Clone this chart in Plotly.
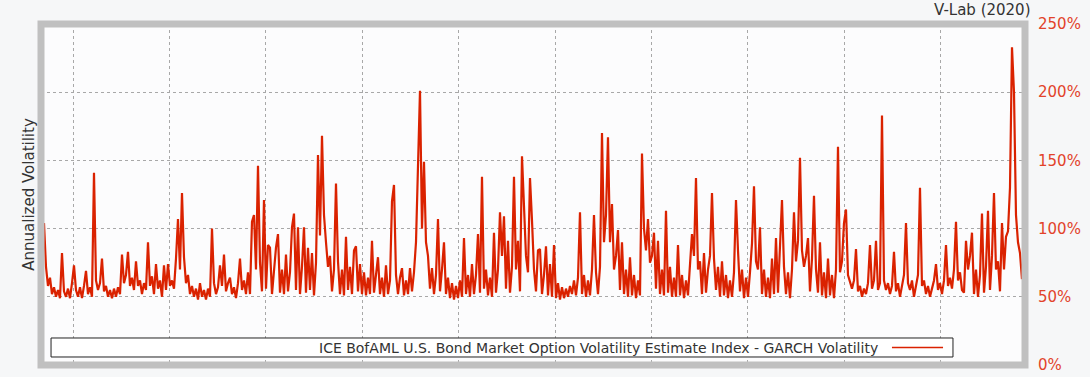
import plotly.graph_objects as go

vol = [
    104, 72, 58, 64, 52, 57, 50, 55, 49, 82, 54, 50, 56, 49, 60, 73, 55, 50, 57, 49,
    58, 69, 52, 57, 50, 141, 62, 55, 60, 78, 54, 58, 50, 55, 49, 56, 50, 57, 52, 81,
    60, 66, 83, 58, 64, 55, 76, 58, 62, 52, 60, 55, 90, 58, 65, 52, 74, 56, 62, 50,
    73, 55, 74, 58, 62, 56, 78, 107, 70, 126, 79, 60, 66, 52, 58, 50, 56, 48, 60, 50,
    55, 48, 56, 50, 100, 60, 52, 57, 73, 58, 81, 54, 60, 64, 52, 57, 49, 60, 78, 55,
    62, 52, 68, 52, 105, 110, 70, 146, 75, 54, 121, 56, 88, 86, 52, 70, 86, 96, 53, 70,
    52, 81, 54, 68, 101, 111, 55, 101, 52, 72, 101, 53, 86, 55, 82, 51, 75, 154, 95, 168,
    110, 90, 72, 80, 54, 70, 133, 76, 52, 70, 51, 94, 55, 72, 52, 84, 87, 54, 74, 52,
    68, 51, 64, 52, 91, 53, 68, 79, 52, 64, 50, 73, 52, 62, 120, 132, 66, 52, 64, 71,
    51, 62, 52, 71, 54, 68, 90, 155, 201, 100, 149, 90, 80, 56, 71, 52, 66, 107, 54, 70,
    90, 52, 64, 49, 60, 48, 58, 49, 62, 50, 93, 52, 66, 50, 74, 52, 66, 96, 53, 138,
    56, 70, 51, 64, 50, 97, 53, 70, 112, 80, 109, 56, 91, 53, 72, 138, 70, 91, 54, 153,
    112, 80, 68, 137, 106, 70, 54, 84, 85, 52, 66, 87, 51, 74, 50, 88, 49, 60, 48, 57,
    49, 56, 50, 58, 52, 62, 51, 64, 112, 52, 66, 50, 62, 51, 70, 110, 68, 52, 72, 170,
    90, 110, 167, 90, 118, 70, 80, 99, 55, 90, 52, 70, 50, 79, 51, 66, 49, 62, 51, 155,
    100, 84, 107, 75, 80, 97, 56, 91, 52, 70, 51, 113, 53, 72, 50, 64, 50, 88, 51, 66,
    49, 62, 51, 70, 96, 80, 137, 70, 76, 52, 82, 53, 70, 80, 126, 78, 55, 72, 50, 76,
    51, 66, 49, 62, 50, 68, 121, 84, 54, 70, 49, 64, 50, 68, 89, 131, 76, 70, 101, 52,
    70, 50, 64, 49, 78, 52, 93, 53, 93, 121, 72, 52, 68, 49, 70, 112, 76, 91, 152, 84,
    72, 80, 93, 54, 78, 124, 70, 53, 90, 51, 68, 49, 78, 51, 66, 49, 70, 160, 68, 76,
    104, 114, 66, 60, 56, 62, 85, 54, 58, 50, 56, 52, 60, 88, 56, 62, 91, 55, 60, 183,
    62, 55, 60, 52, 58, 83, 54, 60, 50, 58, 66, 104, 60, 55, 62, 50, 57, 66, 130, 58,
    62, 52, 58, 50, 56, 62, 74, 55, 60, 52, 62, 88, 58, 64, 56, 70, 105, 62, 68, 55,
    53, 91, 70, 80, 97, 52, 70, 50, 66, 111, 53, 72, 113, 55, 80, 126, 70, 76, 54, 104,
    70, 94, 98, 130, 233, 200, 110, 90, 82, 63,
]

start_year = 1999.398
step_years = 0.041494
years = [start_year + i * step_years for i in range(len(vol))]

y_ticks = [0, 50, 100, 150, 200, 250]
y_tick_labels = ["0%", "50%", "100%", "150%", "200%", "250%"]
series_name = "ICE BofAML U.S. Bond Market Option Volatility Estimate Index - GARCH Volatility"

LINE_RED = "#da2200"
TICK_RED = "#e2432a"
FONT = "DejaVu Sans"

fig = go.Figure()
fig.add_trace(go.Scatter(
    x=years, y=vol, mode="lines", name=series_name,
    line=dict(color=LINE_RED, width=2.2), showlegend=False,
))

fig.update_layout(
    width=1090, height=377,
    margin=dict(l=41, r=65, t=24, b=12, autoexpand=False),
    paper_bgcolor="#f6f7f8",
    plot_bgcolor="#fcfcfd",
    font=dict(family=FONT, size=14, color="#333333"),
    xaxis=dict(
        range=[1999.336, 2019.751], showticklabels=False, ticks="",
        showgrid=True, gridcolor="#a8a8a8", griddash="dot", gridwidth=1,
        tick0=2000, dtick=2, zeroline=False, showline=False, automargin=False,
    ),
    yaxis=dict(
        range=[0, 250], side="right", tickvals=y_ticks, ticktext=y_tick_labels,
        tickfont=dict(color=TICK_RED, size=15, family=FONT),
        ticks="outside", ticklen=9, tickcolor="rgba(0,0,0,0)",
        showgrid=True, gridcolor="#a8a8a8", griddash="dot", gridwidth=1,
        zeroline=False, showline=False, automargin=False,
    ),
    shapes=[
        dict(type="rect", xref="paper", yref="paper", x0=0, x1=1, y0=0, y1=1,
             line=dict(color="#c0c0c0", width=7), layer="above"),
        dict(type="rect", xref="paper", yref="paper", x0=0.0102, x1=0.9268,
             y0=0.0235, y1=0.0792, line=dict(color="#222222", width=1),
             fillcolor="white", layer="above"),
        dict(type="line", xref="paper", yref="paper", x0=0.8648, x1=0.9167,
             y0=0.0513, y1=0.0513, line=dict(color=LINE_RED, width=1.5), layer="above"),
    ],
    annotations=[
        dict(text=series_name, xref="paper", yref="paper", x=0.8526, y=0.0513,
             xanchor="right", yanchor="middle", showarrow=False,
             font=dict(size=14, color="#333333", family=FONT)),
        dict(text="V-Lab (2020)", xref="paper", yref="paper", x=1.008, y=1.041,
             xanchor="right", yanchor="middle", showarrow=False,
             font=dict(size=15, color="#333333", family=FONT)),
        dict(text="Annualized Volatility", xref="paper", yref="paper", x=-0.013, y=0.5,
             xanchor="center", yanchor="middle", textangle=-90, showarrow=False,
             font=dict(size=15, color="#333333", family=FONT)),
    ],
)

fig.write_html("out.html")
